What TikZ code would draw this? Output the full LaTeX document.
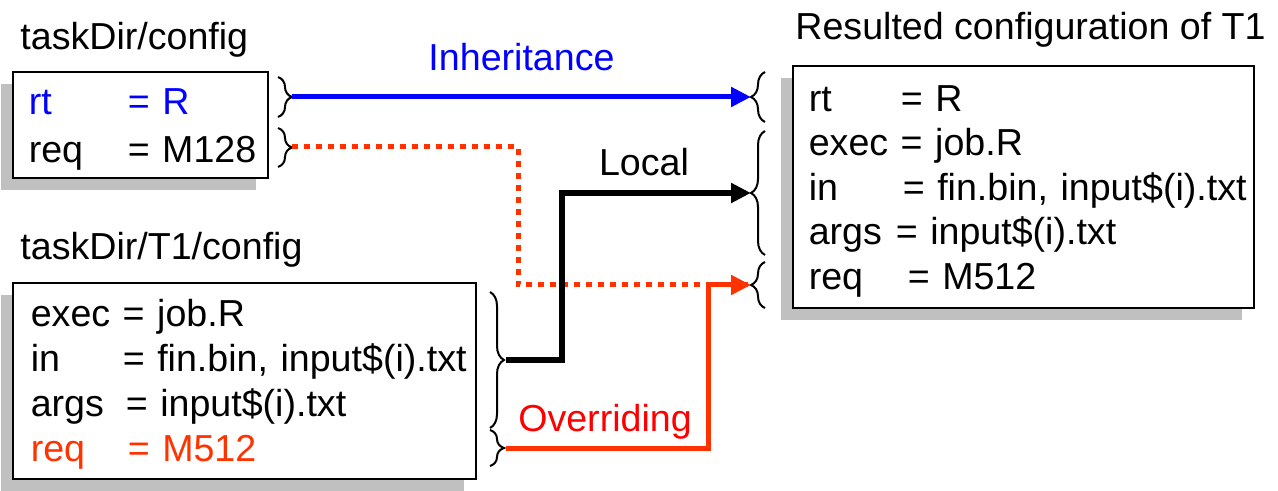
\documentclass[tikz,border=0pt]{standalone}
\usepackage{fontspec}
\setmainfont{Liberation Sans}
\usetikzlibrary{arrows.meta,calc,positioning,shadows,decorations.pathreplacing}
\definecolor{inhblue}{HTML}{0000FF}
\definecolor{ovrorange}{HTML}{FF3300}
\definecolor{ovrred}{HTML}{FF0000}
\definecolor{shadowgray}{HTML}{C0C0C0}
\newcommand{\kv}[3]{\mbox{\makebox[#1][l]{#2}#3}}

\begin{document}
\begin{tikzpicture}[x=0.5pt, y=-0.5pt, >={Triangle[length=10pt,width=9.5pt]},
  cfg/.style={draw, line width=0.8pt, fill=white, anchor=north west, align=left, inner xsep=8pt, inner ysep=0pt,
    execute at begin node={\rule{0pt}{17.5pt}},
    drop shadow={shadow xshift=-6pt, shadow yshift=-6pt, fill=shadowgray, opacity=1}},
  lbl/.style={font=\fontsize{18.8}{22}\selectfont, inner sep=0pt},
  brc/.style={decorate, decoration={brace, amplitude=7pt}, line width=1pt},
  link/.style={line width=2.5pt}]
  \useasboundingbox (0,0) rectangle (1278,491);

  \node[lbl, anchor=west] (baseTitle) at (20,40) {taskDir/config};
  \node[cfg, text width=111.5pt, minimum height=53pt, font=\fontsize{18.8}{24}\selectfont] (base) at (12,71)
    {\textcolor{inhblue}{\kv{49.5pt}{rt}{= R}}\\ \kv{49.5pt}{req}{= M128}};

  \node[lbl, anchor=west] (taskTitle) at (20,250) {taskDir/T1/config};
  \node[cfg, inner xsep=9pt, text width=213.5pt, minimum height=98pt, font=\fontsize{18.8}{22.5}\selectfont] (task) at (12,282)
    {\mbox{exec = job.R}\\ \kv{46pt}{in}{= fin.bin, input\$(i).txt}\\ \kv{47.5pt}{args}{= input\$(i).txt}\\
     \textcolor{ovrorange}{\kv{48.5pt}{req}{= M512}}};

  \node[lbl, anchor=west] (resTitle) at (795,30) {Resulted configuration of T1};
  \node[cfg, text width=214.5pt, minimum height=121pt, font=\fontsize{18.8}{22.25}\selectfont] (res) at (792,65)
    {\kv{46pt}{rt}{= R}\\ \mbox{exec = job.R}\\ \kv{47pt}{in}{= fin.bin, input\$(i).txt}\\
     \kv{43.5pt}{args}{= input\$(i).txt}\\ \kv{49.5pt}{req}{= M512}};

  \draw[brc] (278,77) -- (278,117);
  \draw[brc] (278,128) -- (278,167);
  \draw[brc] (765,122) -- (765,72);
  \draw[brc] (765,255) -- (765,131);
  \draw[brc] (765,308) -- (765,262);
  \draw[brc] (490,292) -- (490,428);
  \draw[brc] (490,430) -- (490,466);

  \coordinate (rtOut) at (292,97);
  \coordinate (reqOut) at (292,147);
  \coordinate (locOut) at (506,360);
  \coordinate (ovrOut) at (506,448);
  \coordinate (rtIn) at (751,97);
  \coordinate (locIn) at (751,193);
  \coordinate (reqIn) at (751,285);

  \draw[link, inhblue, ->] (rtOut) -- (rtIn) node[lbl, text=inhblue, midway, above=12pt] (inhLabel) {Inheritance};
  \draw[link, ovrorange, dash pattern=on 3pt off 3pt] (reqOut) -| ($(reqIn)+(-233,0)$) -- (reqIn);
  \draw[link, line width=3pt, ->] (locOut) -- ++(56,0) |- (locIn);
  \node[lbl] (locLabel) at (644,162) {Local};
  \draw[link, ovrorange, ->] (ovrOut) -| ($(reqIn)+(-43,0)$) -- (reqIn);
  \node[lbl, text=ovrred] (ovrLabel) at (605,422) {Overriding};
\end{tikzpicture}
\end{document}
